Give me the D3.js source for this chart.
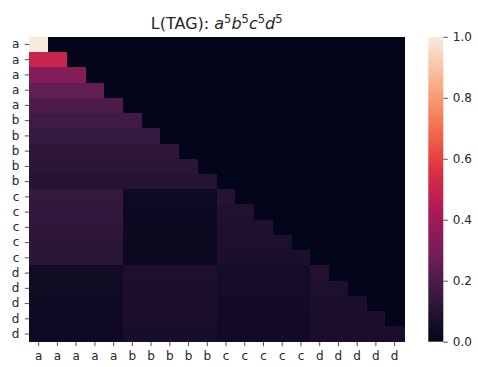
<!DOCTYPE html>
<html>
<head>
<meta charset="utf-8">
<script src="https://cdn.jsdelivr.net/npm/d3@7"></script>
<style>
  html, body { margin: 0; padding: 0; background: #ffffff; }
  svg { display: block; }
  text { font-family: "DejaVu Sans", sans-serif; fill: #262626; }
</style>
</head>
<body>
<svg id="chart" width="478" height="367"></svg>
<script>
// Token sequence on both axes
const tokens = ["a","a","a","a","a","b","b","b","b","b","c","c","c","c","c","d","d","d","d","d"];

// Attention weights, one row per query token (lower-triangular)
const rowA0 = [1.0];
const rowA1 = [0.5, 0.5];
const rowA2 = [0.333, 0.333, 0.333];
const rowA3 = [0.25, 0.25, 0.25, 0.25];
const rowA4 = [0.2, 0.2, 0.2, 0.2, 0.2];
const rowB0 = [0.167, 0.167, 0.167, 0.167, 0.167, 0.167];
const rowB1 = [0.143, 0.143, 0.143, 0.143, 0.143, 0.143, 0.143];
const rowB2 = [0.125, 0.125, 0.125, 0.125, 0.125, 0.125, 0.125, 0.125];
const rowB3 = [0.111, 0.111, 0.111, 0.111, 0.111, 0.111, 0.111, 0.111, 0.111];
const rowB4 = [0.1, 0.1, 0.1, 0.1, 0.1, 0.1, 0.1, 0.1, 0.1, 0.1];
const rowC0 = [0.14, 0.14, 0.14, 0.14, 0.14, 0.035, 0.035, 0.035, 0.035, 0.035, 0.1];
const rowC1 = [0.13, 0.13, 0.13, 0.13, 0.13, 0.03, 0.03, 0.03, 0.03, 0.03, 0.085, 0.085];
const rowC2 = [0.125, 0.125, 0.125, 0.125, 0.125, 0.028, 0.028, 0.028, 0.028, 0.028, 0.08, 0.08, 0.08];
const rowC3 = [0.118, 0.118, 0.118, 0.118, 0.118, 0.025, 0.025, 0.025, 0.025, 0.025, 0.075, 0.075, 0.075, 0.075];
const rowC4 = [0.112, 0.112, 0.112, 0.112, 0.112, 0.022, 0.022, 0.022, 0.022, 0.022, 0.07, 0.07, 0.07, 0.07, 0.07];
const rowD0 = [0.04, 0.04, 0.04, 0.04, 0.04, 0.075, 0.075, 0.075, 0.075, 0.075, 0.05, 0.05, 0.05, 0.05, 0.05, 0.085];
const rowD1 = [0.04, 0.04, 0.04, 0.04, 0.04, 0.07, 0.07, 0.07, 0.07, 0.07, 0.05, 0.05, 0.05, 0.05, 0.05, 0.075, 0.075];
const rowD2 = [0.038, 0.038, 0.038, 0.038, 0.038, 0.068, 0.068, 0.068, 0.068, 0.068, 0.048, 0.048, 0.048, 0.048, 0.048, 0.07, 0.07, 0.07];
const rowD3 = [0.036, 0.036, 0.036, 0.036, 0.036, 0.066, 0.066, 0.066, 0.066, 0.066, 0.046, 0.046, 0.046, 0.046, 0.046, 0.068, 0.068, 0.068, 0.068];
const rowD4 = [0.035, 0.035, 0.035, 0.035, 0.035, 0.064, 0.064, 0.064, 0.064, 0.064, 0.045, 0.045, 0.045, 0.045, 0.045, 0.065, 0.065, 0.065, 0.065, 0.065];

const rows = [rowA0, rowA1, rowA2, rowA3, rowA4, rowB0, rowB1, rowB2, rowB3, rowB4,
              rowC0, rowC1, rowC2, rowC3, rowC4, rowD0, rowD1, rowD2, rowD3, rowD4];

const colorTicks = [0.0, 0.2, 0.4, 0.6, 0.8, 1.0];

// "rocket" colormap stops
const rocketStops = [
  [0.0, "#03051a"], [1 / 7, "#35193e"], [2 / 7, "#701f57"], [3 / 7, "#ad1759"],
  [4 / 7, "#e13342"], [5 / 7, "#f37651"], [6 / 7, "#f6b48f"], [1.0, "#faebdd"]
];
const color = d3.scaleLinear()
  .domain(rocketStops.map(d => d[0]))
  .range(rocketStops.map(d => d[1]))
  .interpolate(d3.interpolateRgb)
  .clamp(true);

const svg = d3.select("#chart");
const plotLeft = 29.3, plotRight = 404, plotTop = 36.8, plotBottom = 341.7;
const idx = d3.range(tokens.length);

const x = d3.scaleBand().domain(idx).range([plotLeft, plotRight]).paddingInner(0).paddingOuter(0);
const y = d3.scaleBand().domain(idx).range([plotTop, plotBottom]).paddingInner(0).paddingOuter(0);

// Full grid of cells; masked-out (future) positions carry weight 0
const cells = [];
rows.forEach((r, i) => idx.forEach(j => cells.push({ i, j, v: j < r.length ? r[j] : 0 })));

svg.append("g").selectAll("rect")
  .data(cells)
  .join("rect")
  .attr("x", d => x(d.j))
  .attr("y", d => y(d.i))
  .attr("width", x.bandwidth() + 0.5)
  .attr("height", y.bandwidth() + 0.5)
  .attr("fill", d => color(d.v))
  .attr("shape-rendering", "crispEdges");

const tickFont = 12;
function styleAxis(g) {
  g.select(".domain").remove();
  g.selectAll(".tick line").attr("stroke", "#262626").attr("stroke-width", 0.8);
  g.selectAll(".tick text").attr("font-size", tickFont).attr("fill", "#262626")
    .style("font-family", "'DejaVu Sans', sans-serif");
}

// Axes
const xAxis = d3.axisBottom(x).tickSize(4.5).tickPadding(5).tickFormat(i => tokens[i]);
const yAxis = d3.axisLeft(y).tickSize(4.5).tickPadding(5.5).tickFormat(i => tokens[i]);

svg.append("g").attr("transform", `translate(0,${plotBottom})`).call(xAxis).call(styleAxis);
svg.append("g").attr("transform", `translate(${plotLeft},0)`).call(yAxis).call(styleAxis);

// Colorbar
const cbLeft = 428.3, cbW = 15;
const cy = d3.scaleLinear().domain([0, 1]).range([plotBottom, plotTop]);
const defs = svg.append("defs");
const grad = defs.append("linearGradient").attr("id", "cbgrad")
  .attr("x1", 0).attr("y1", 1).attr("x2", 0).attr("y2", 0);
d3.range(0, 1.0001, 0.02).forEach(t => {
  grad.append("stop").attr("offset", t).attr("stop-color", color(t));
});
svg.append("rect")
  .attr("x", cbLeft).attr("y", plotTop)
  .attr("width", cbW).attr("height", plotBottom - plotTop)
  .attr("fill", "url(#cbgrad)");

const cAxis = d3.axisRight(cy).tickValues(colorTicks).tickSize(4.5).tickPadding(5)
  .tickFormat(d3.format(".1f"));
svg.append("g").attr("transform", `translate(${cbLeft + cbW},0)`).call(cAxis).call(styleAxis);

// Title with superscript exponents in italic math style
const title = svg.append("text")
  .attr("x", (plotLeft + plotRight) / 2)
  .attr("y", 28.5)
  .attr("text-anchor", "middle")
  .attr("font-size", 16)
  .attr("fill", "#262626");
title.append("tspan").text("L(TAG): ");
["a", "b", "c", "d"].forEach((s, k) => {
  title.append("tspan").attr("font-style", "italic").attr("dy", k === 0 ? 0 : 6).text(s);
  title.append("tspan").attr("font-size", 11.5).attr("dy", -6).text("5");
});
</script>
</body>
</html>
